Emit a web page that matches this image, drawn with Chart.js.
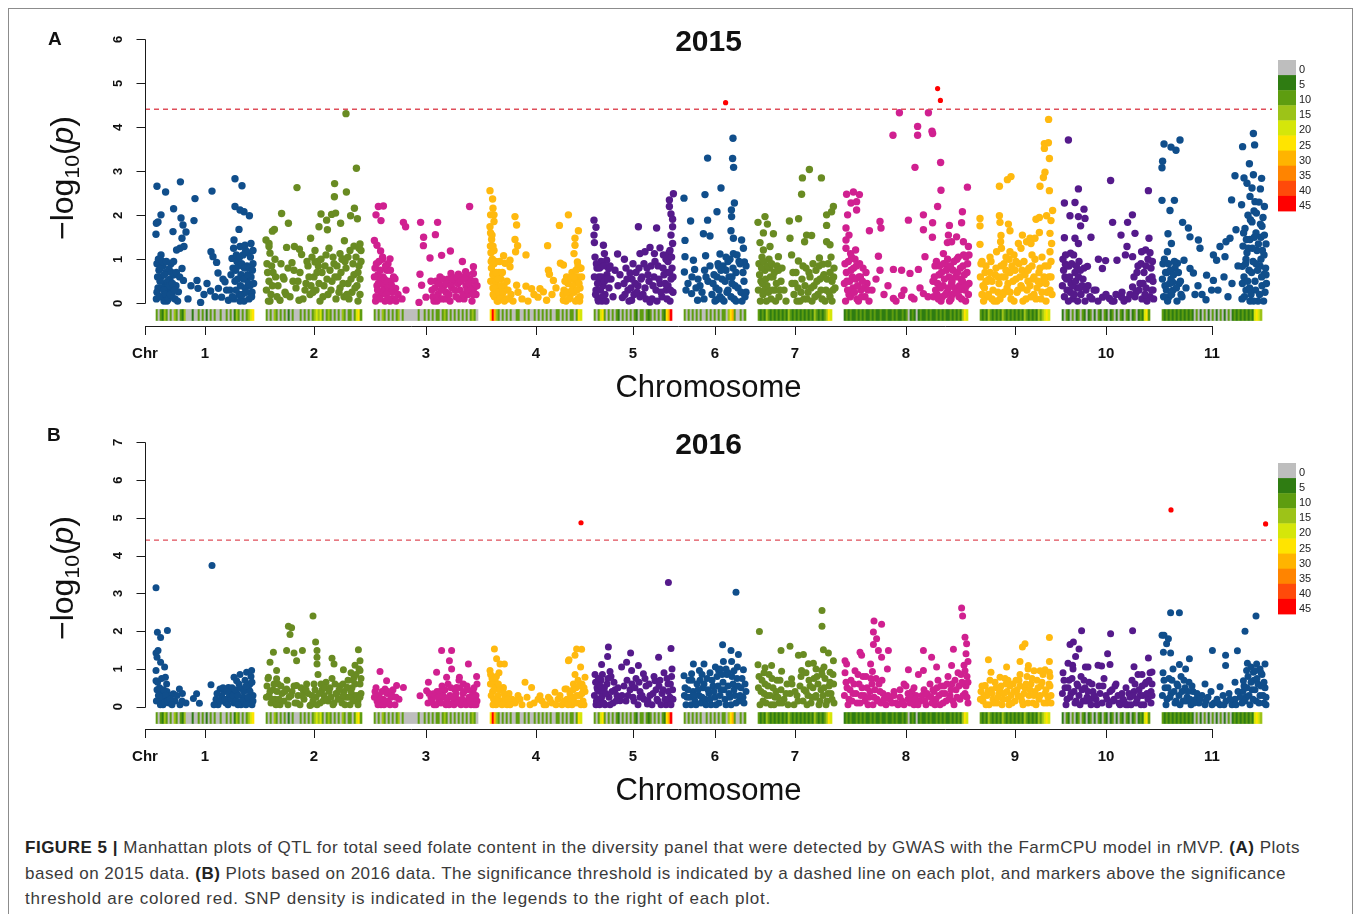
<!DOCTYPE html>
<html>
<head>
<meta charset="utf-8">
<title>Manhattan plots of seed folate QTL</title>
<script src="https://cdn.jsdelivr.net/npm/chart.js@4.4.1/dist/chart.umd.min.js"></script>
<style>
  html, body { margin: 0; padding: 0; background: #fff; }
  #page { position: relative; width: 1358px; height: 914px; overflow: hidden;
          font-family: "Liberation Sans", Arial, Helvetica, sans-serif; color: #111; }
  #frame { position: absolute; left: 8px; top: 8px; width: 1345px; height: 1000px;
           border: 1px solid #8c8c8c; box-sizing: border-box; }
  .panel { position: absolute; left: 0; width: 1358px; height: 403px; }
  .panel canvas { position: absolute; left: 0; top: 0; }
  .tag { position: absolute; font-weight: bold; font-size: 19px; line-height: 19px; color: #111; }
  .ytitle { position: absolute; font-size: 32px; line-height: 36px; color: #111; white-space: nowrap;
            transform: translate(-50%, -50%) rotate(-90deg); }
  .ytitle sub { font-size: 0.66em; vertical-align: -0.28em; }
  .cap { position: absolute; left: 25px; font-size: 17px; line-height: 20px; color: #3a3a3a; white-space: nowrap; }
  .cap b { color: #222; }
</style>
</head>
<body>
<div id="page">
  <div id="frame"></div>

  <div class="panel" id="panelA" style="top:0px">
    <canvas id="chartA" width="1358" height="403"></canvas>
    <div class="tag" style="left:48px; top:29px;">A</div>
    <div class="ytitle" style="left:67px; top:178px;">&minus;log<sub>10</sub>(<i>p</i>)</div>
  </div>

  <div class="panel" id="panelB" style="top:403px">
    <canvas id="chartB" width="1358" height="403"></canvas>
    <div class="tag" style="left:47px; top:22px;">B</div>
    <div class="ytitle" style="left:67px; top:175px;">&minus;log<sub>10</sub>(<i>p</i>)</div>
  </div>

  <div class="cap" data-w="1275" style="top:838px"><b>FIGURE 5 |</b> Manhattan plots of QTL for total seed folate content in the diversity panel that were detected by GWAS with the FarmCPU model in rMVP. <b>(A)</b> Plots</div>
  <div class="cap" data-w="1261" style="top:864px">based on 2015 data. <b>(B)</b> Plots based on 2016 data. The significance threshold is indicated by a dashed line on each plot, and markers above the significance</div>
  <div class="cap" data-w="746" style="top:889px">threshold are colored red. SNP density is indicated in the legends to the right of each plot.</div>
</div>

<script>
// ---- genome layout ----
const chromNames  = ['1','2','3','4','5','6','7','8','9','10','11'];
const chromLength = [49, 48, 52, 46, 39, 31, 37, 62, 35, 44, 50];   // Mb-like units
const chromGap    = 6;
const chromColors = ['#104E8B', '#698B22', '#D02090', '#FFB90F', '#551A8B'];
const threshold   = 4.41;

// ---- SNP density key (SNPs per window) ----
const densityBreaks = [0, 5, 10, 15, 20, 25, 30, 35, 40, 45];
const densityColors = ['#BEBEBE', '#2F7C12', '#5E9D10', '#9DC318', '#D5E60A',
                       '#FFE400', '#FFB400', '#FF8400', '#FF4A0A', '#FF0000'];
// one digit per 1-unit window = index into densityBreaks
const snpDensity = [
  '202132020320213' + '00010020' + '2010202' + '00200' + '2020132020' + '2345',
  '2020320202' + '0102000' + '2020202' + '3434' + '20232020203202' + '202' + '452',
  '202032020202302' + '0000000' + '2002020202' + '2023202020' + '2020202320',
  '5963' + '2020202002' + '2002020020' + '2020202002' + '2020202202' + '54',
  '2024' + '5202020210' + '2020202102' + '2021202020' + '21569',
  '2020202020' + '0202020202' + '2035620' + '0202',
  '2121321212' + '1212132121' + '2121212132' + '1212354',
  '1212112121' + '2112121121' + '1211212112' + '1201210121' + '1212112121' + '2112121213' + '54',
  '2121321212' + '1321212121' + '2132121213' + '23454',
  '1021020120' + '2101201021' + '0210120102' + '1021012012' + '1452',
  '2121212121' + '2121210201' + '0201020102' + '0102012121' + '212121' + '4543'
];

// ---- 2015: [position within chromosome, -log10(p)] ----
const chr1_2015 = [[0.5,2.66],[4.8,2.53],[12.2,2.76],[19.5,2.38],[28,2.55],[39.5,2.83],[43,2.67],[8.8,2.15],[2.5,2.01],[0.2,1.82],[1,1.85],[0,1.57],[12.5,1.94],[13.5,1.78],[15,1.62],[8.5,1.63],[19,1.88],[13,1.48],[39.5,2.2],[42,2.12],[44,2.08],[46.7,1.99],[41.5,1.68],[39,1.44],[42,1.29],[44.5,1.32],[47.5,1.36],[10.3,1.21],[12,1.25],[14,1.29],[2.5,1.1],[27.5,1.17],[28.5,1.06],[30.3,0.93],[38,1.02],[13,0.79],[20.5,0.52],[21,0.34],[22.3,0.02],[27.3,0.28],[31,0.69],[34.5,0.49],[31.2,0.34],[35.3,0.3],[32.8,0.14],[36.2,0.07],[13.7,0.52],[11.2,0.26],
  [0.5,0.9],[1.5,0.75],[2.5,0.6],[3.5,0.85],[4.5,0.45],[5,0.7],[6,0.3],[7,0.55],[8,0.2],[9,0.65],[10,0.4],[1,0.35],[3,0.15],[5.5,0.05],[2,0.5],[0.5,0.25],[7.5,0.9],[4,0.05],[9.5,0.1],[6.5,0.78],
  [38.5,0.8],[39.5,0.5],[40.5,0.95],[41.5,0.2],[42.5,0.65],[43.5,1.1],[44.5,0.35],[45.5,0.85],[46.5,0.1],[47.5,0.6],[48.5,0.9],[48,0.25],[46,1.15],[44,0.05],[40,0.3],[42,0.05],[45,0.55],[47,0.4],[48.5,1.2],[39,0.1],
  [0.2,0.1],[0.8,0.6],[1.2,1.0],[1.8,0.15],[2.2,0.8],[2.8,0.35],[3.2,0.95],[3.8,0.3],[4.2,0.65],[4.8,0.2],[5.2,0.95],[5.8,0.5],[6.2,0.1],[6.8,0.4],[7.2,0.2],[7.8,0.7],[8.2,0.45],[8.8,0.95],[9.2,0.3],[10.2,0.7],[10.8,0.05],[11.8,0.6],[16,0.1],[17.5,0.4],[24,0.2],[25.5,0.45],[29.5,0.15],[33.5,0.55],[37,0.3],[37.5,0.65],[38.2,0.15],[38.8,1.25],[39.8,0.75],[40.2,1.1],[40.8,0.55],[41.2,0.85],[41.8,1.05],[42.2,0.4],[42.8,0.9],[43.2,0.2],[43.8,0.55],[44.2,0.8],[44.8,1.2],[45.2,0.25],[45.8,0.65],[46.2,0.45],[46.8,0.8],[47.2,1.05],[47.8,0.15],[48.2,0.75],[48.8,0.45]];
const chr2_2015 = [[40,4.31],[45.2,3.07],[34.3,2.72],[34.2,2.42],[40.2,2.53],[15.5,2.63],[7.8,2.04],[11.2,1.82],[3.2,1.64],[4.2,1.68],[27.5,2.03],[30.3,1.89],[32.8,2.02],[34.8,2.05],[37.3,1.82],[42.3,1.99],[44.2,2.16],[45.7,1.92],[26.5,1.74],[30.7,1.67],[22.3,1.48],[39.2,1.42],[0,1.44],[1.5,1.36],[1.5,1.29],[2,1.14],[10.3,1.27],[14.2,1.29],[16.7,1.23],[17.8,1.11],[13,0.92],[24.5,0.94],[26.2,0.84],[37,1.13],[38.7,1.01],[47,1.35],[47.5,1.2],[7,0.07],[16.5,0.07],
  [0.5,0.9],[1.5,0.5],[2.5,0.2],[3.5,0.7],[4.5,1.0],[2,0.05],[6,0.4],[8.5,0.6],[9.5,0.25],[11,0.8],[12,0.15],[13.5,0.5],[15,0.35],[17,0.7],[18.5,0.1],[20,0.45],[21,0.85],[22,0.2],[23,1.05],[24,0.6],[25,0.3],[26,0.95],[27,0.05],[28,0.7],[29,0.4],[30,1.1],[31,0.2],[32,0.75],[33,0.5],[34,0.9],[35,0.1],[36,0.6],[37,0.35],[38,1.0],[39,0.15],[40,0.8],[41,0.45],[42,1.2],[43,0.25],[44,0.65],[45,1.05],[46,0.05],[47,0.55],[46.5,0.85],[44.5,0.35],[41.5,0.1],
  [0.2,0.3],[0.8,0.7],[1.2,0.05],[2.8,0.85],[3.2,0.4],[4.8,0.6],[5.5,0.15],[7.5,0.9],[9,0.55],[10,0.2],[14,0.75],[16,0.5],[19.5,0.3],[20.5,0.95],[21.5,0.6],[22.5,0.4],[23.5,0.25],[24.5,1.2],[25.5,0.7],[26.5,0.45],[27.5,1.0],[28.5,0.15],[29.5,0.85],[30.5,0.55],[31.5,1.25],[32.5,0.3],[33.5,1.05],[34.5,0.6],[35.5,0.85],[36.5,0.25],[37.5,0.7],[38.5,0.45],[39.5,0.95],[40.5,0.2],[41,1.05],[42.5,0.55],[43.5,0.9],[44,1.3],[45.5,0.4],[46,0.7],[47,0.2],[47.5,0.95],[46.5,1.25]];
const chr3_2015 = [[2.2,2.2],[4.7,2.21],[1,2.01],[3.5,1.88],[14.7,1.84],[15.8,1.74],[23.3,1.84],[31.8,1.84],[24.8,1.5],[30.7,1.56],[24.7,1.31],[47.8,2.2],[0.2,1.43],[1.5,1.32],[3.3,1.19],[4.3,1.05],[8,1.01],[28,1.03],[33.8,1.09],[38.2,1.19],[44.2,0.95],[49.7,0.83],[49.7,0.68],[45.8,0.72],[42.2,0.66],[38.5,0.68],[23,0.66],[23.8,0.41],[10.5,0.56],[10.8,0.34],[22.5,0.02],[26,0.14],
  [0.5,0.8],[1.5,0.4],[2.5,0.95],[3.5,0.2],[4.5,0.6],[5.5,0.05],[6.5,0.75],[7.5,0.3],[8.5,0.5],[9.5,0.1],[1,0.15],[3,0.55],[5,0.35],[7,0.9],[9,0.25],[2,0.65],[6,0.45],[8,0.05],[12,0.2],[14,0.1],[16,0.3],[29,0.3],[30,0.05],[31,0.5],[32,0.2],[33,0.6],[34,0.1],[35,0.4],[36,0.25],[37,0.55],[38,0.05],[39,0.35],[40,0.5],[41,0.15],[42,0.45],[43,0.3],[44,0.6],[45,0.1],[46,0.4],[47,0.2],[48,0.55],[49,0.05],[50,0.35],[51,0.2],[49,0.5],[46.5,0.65],
  [0.2,0.6],[0.8,0.05],[1.2,0.9],[1.8,0.3],[2.2,0.45],[2.8,0.1],[3.2,0.75],[3.8,0.45],[4.2,1.0],[4.8,0.25],[5.2,0.55],[5.8,0.85],[6.2,0.2],[6.8,0.5],[7.2,0.1],[8.2,0.75],[8.8,0.4],[9.8,0.6],[11,0.05],[28.5,0.5],[29.5,0.15],[30.5,0.35],[31.5,0.05],[32.5,0.45],[33.5,0.3],[34.5,0.55],[35.5,0.1],[36.5,0.45],[37.5,0.2],[38.5,0.4],[39.5,0.55],[40.5,0.3],[41.5,0.6],[42.5,0.1],[43.5,0.5],[44.5,0.2],[45.5,0.55],[46.5,0.3],[47.5,0.45],[48.5,0.3],[49.5,0.2],[50.5,0.5],[51.5,0.4]];
const chr4_2015 = [[0,2.56],[1.3,2.37],[1.5,2.16],[2,2.01],[0.3,2.01],[2,1.86],[0,1.74],[12.5,1.97],[13.3,1.78],[12.5,1.45],[13.8,1.31],[6.8,1.08],[10,0.98],[12.8,1.17],[18,1.1],[28.8,1.31],[34.7,1.77],[29.2,0.75],[29.7,0.66],[31.7,0.52],[35.2,0.91],[13.3,0.41],[18,0.39],[20.8,0.33],[25,0.33],[26.7,0.26],[24,0.14],[28.3,0.07],[36.7,0.07],[7.5,0.91],[10,0.83],[39.2,2.01],[44.2,1.65],[42.5,1.48],[42.5,1.32],[42,1.13],[43.7,0.94],[36.7,0.87],[45,0.79],[38.3,0.6],[44.2,0.6],
  [0.3,1.6],[0.8,1.45],[1.5,1.3],[0.5,1.15],[1.2,1.0],[2,0.9],[0.7,0.8],[1.8,0.7],[2.5,0.6],[0.4,0.5],[3,0.45],[1.5,0.35],[3.5,0.25],[2.2,0.15],[4,0.05],[5,0.3],[6,0.15],[4.5,0.7],[5.5,0.55],[7,0.4],[8,0.1],[9,0.3],[10.5,0.2],[11.5,0.05],[14,0.25],[16,0.1],[19,0.05],[22,0.2],[31,0.2],[33,0.35],[37,0.3],[38,0.05],[39,0.45],[40,0.15],[41,0.7],[42,0.25],[43,0.5],[44,0.1],[45,0.35],[45.5,0.8],[44.8,0.05],[41.5,0.4],
  [0.2,1.3],[0.6,0.95],[1,1.55],[1.4,0.65],[1.6,0.2],[2,1.2],[2.4,0.35],[2.8,0.95],[3.2,0.7],[3.6,0.05],[4,0.55],[4.4,0.25],[4.8,0.95],[5.2,0.1],[5.6,0.4],[6.2,0.7],[6.6,0.25],[7.2,0.05],[8.5,0.5],[9.5,0.1],[36.5,0.2],[37.5,0.5],[38.5,0.25],[39.5,0.1],[40.5,0.55],[41,0.3],[42,0.6],[42.8,0.05],[43.5,0.3],[44,0.85],[44.5,0.45],[45,0.15],[45.8,0.6],[43,0.75]];
const chr5_2015 = [[0,1.89],[1,1.73],[0,1.55],[0.2,1.38],[22.2,1.74],[31.3,1.71],[39.7,2.49],[37.7,2.35],[37.7,2.2],[38.5,2.03],[39.3,1.91],[39.3,1.74],[38.5,1.55],[39.3,1.36],[4.7,1.32],[11.8,1.12],[15.2,1.0],[18,0.69],[23,1.13],[25.5,1.17],[28,1.27],[30.2,1.13],[33,1.26],[34.7,1.1],[5.2,1.13],[6.3,0.98],[7.3,0.79],[14.2,0.13],[18.8,0.07],[28,0.03],
  [0.5,1.05],[1.5,0.8],[2.5,0.6],[3.5,0.95],[4.5,0.4],[5.5,0.2],[6.5,0.65],[7.5,0.35],[1,0.3],[2,0.1],[3,0.5],[4,0.05],[8.5,0.55],[9.5,0.15],[10.5,0.75],[12,0.4],[13,0.65],[15,0.45],[16,0.8],[17,0.3],[19,0.55],[20,0.2],[21,0.7],[22,0.4],[23,0.15],[24,0.6],[25.5,0.35],[26.5,0.8],[27.5,0.5],[29,0.1],[30,0.6],[31,0.3],[32,0.85],[33,0.45],[34,0.15],[35,0.65],[36,0.3],[37,0.95],[38,0.05],[38.5,0.55],[39,0.8],[39.5,0.25],[37.5,1.15],[36.5,0.7],
  [0.2,0.6],[0.8,0.2],[1.2,0.9],[1.8,0.45],[2.2,0.05],[2.8,0.8],[3.2,0.3],[3.8,0.6],[4.2,0.15],[4.8,0.85],[5.2,0.5],[6,0.05],[7,0.55],[8,0.85],[15.5,0.2],[16.5,0.55],[17.5,0.05],[18.5,0.35],[19.5,0.9],[20.5,0.45],[21.5,0.25],[22.5,0.8],[23.5,0.55],[24.5,0.2],[25,0.9],[26,0.1],[27,0.65],[28.5,0.85],[29.5,0.4],[30.5,0.95],[31.5,0.05],[32.5,0.55],[33.5,0.25],[34.5,0.8],[35.5,0.45],[36,1.0],[36.5,0.1],[37,0.4],[37.8,0.7],[38.2,0.3],[38.8,1.05],[39.5,0.6],[38,1.2]];
const chr6_2015 = [[24.5,3.75],[11.8,3.3],[24.3,3.29],[24.8,3.09],[18.5,2.62],[0,2.39],[10.5,2.47],[16.5,2.08],[25.2,2.28],[23.7,2.12],[23.8,1.97],[3.3,1.87],[11.8,1.89],[0.5,1.43],[9.7,1.58],[13,1.53],[23.5,1.65],[24.7,1.48],[28.8,1.44],[29.7,1.25],[0.5,1.06],[4.7,0.98],[10.8,1.08],[18,1.12],[24.7,1.13],[30.2,0.94],[0.2,0.71],[5.3,0.77],[10.3,0.75],[17.3,0.84],[3.8,0.22],[6.8,0.07],[16.3,0.08],[30,0.22],
  [12,0.5],[14,0.2],[15,0.65],[16,0.35],[17,0.9],[18,0.15],[19,0.55],[20,0.05],[21,0.75],[22,0.3],[23,1.0],[24,0.45],[25,0.1],[26,0.7],[27,0.35],[28,0.9],[29,0.05],[30,0.5],[31,0.25],[26.5,1.1],[22.5,0.6],[19.5,0.85],[8,0.4],[7,0.55],[2,0.45],[10,0.1],
  [13,0.85],[14.5,0.45],[15.5,0.05],[16.5,0.6],[17.5,0.3],[18.5,0.75],[19,0.1],[20.5,0.5],[21.5,0.25],[22,0.95],[23.5,0.15],[24.5,0.8],[25.5,0.4],[26,0.05],[27.5,0.95],[28.5,0.25],[29.5,0.7],[30.5,0.15],[31,0.85],[24,0.6],[21,1.05],[1,0.3],[4,0.6],[6,0.35],[9,0.25],[11,0.6]];
const chr7_2015 = [[25.7,3.04],[22.2,2.85],[31.7,2.85],[21.8,2.48],[0,1.84],[3.5,1.97],[4.7,1.8],[15.7,1.87],[20.3,1.92],[34.3,2.01],[36.8,2.08],[37.7,2.2],[34.3,1.77],[24.3,1.55],[26.8,1.54],[2.7,1.6],[7.7,1.58],[16,1.48],[23.3,1.4],[1,1.38],[2.7,1.21],[6,1.29],[10.2,1.06],[20.2,0.96],[16.8,1.1],[21,0.05],[34.3,1.4],[36,1.33],[30.7,1.03],[32.3,0.89],
  [0.5,0.9],[1.5,0.5],[2.5,0.2],[3.5,0.75],[4.5,0.4],[5.5,1.0],[6.5,0.1],[7.5,0.6],[8.5,0.3],[9.5,0.85],[10.5,0.15],[11.5,0.5],[13,0.3],[14,0.05],[17,0.45],[18,0.2],[19,0.7],[20,0.35],[22,0.55],[23,0.1],[24,0.8],[25,0.25],[26,0.6],[27,0.05],[28,0.4],[29,0.75],[30,0.2],[31,0.55],[32,0.1],[33,0.65],[34,0.3],[35,0.9],[36,0.15],[37,0.5],[38,0.8],[37.5,0.3],[36.5,1.05],[2,1.05],[6,0.8],
  [0.2,0.3],[0.8,0.65],[1.2,0.05],[1.8,0.8],[2.2,0.45],[2.8,0.95],[3.2,0.3],[3.8,0.55],[4.2,0.05],[4.8,0.85],[5.2,0.25],[6.2,0.6],[6.8,0.9],[7.2,0.3],[8.2,0.7],[8.8,0.05],[9.2,0.45],[10.2,0.75],[11,0.3],[12,0.8],[17.5,0.7],[18.5,0.45],[19.5,0.05],[21.5,0.25],[22.5,0.85],[23.5,0.4],[24.5,0.1],[25.5,0.7],[26.5,0.35],[27.5,0.9],[28.5,0.15],[29.5,0.5],[30.5,0.85],[31.5,0.3],[32.5,0.6],[33.5,0.05],[34.5,0.55],[35.5,0.25],[36,0.7],[37,0.05],[37.8,0.6],[38.5,0.35]];
const chr8_2015 = [[27.7,4.33],[42.2,4.33],[24.5,3.82],[36.8,4.02],[36.8,3.82],[44,3.91],[44.3,3.86],[35.5,3.09],[48.3,3.2],[48.5,2.57],[61.7,2.64],[46.8,2.2],[1.3,2.48],[4.7,2.53],[7.7,2.47],[3.5,2.28],[6.3,2.31],[6.3,2.12],[1.8,2.01],[18,1.86],[18.5,1.71],[12.7,1.65],[32.2,1.89],[39.7,2.01],[44.3,1.83],[39.7,1.67],[44.2,1.5],[52.7,1.77],[59.2,2.08],[58.8,1.83],[52.2,1.55],[51.7,1.38],[1,1.71],[2.5,1.55],[1,1.44],[1,1.25],[3.3,1.13],[5.8,1.21],[17.2,1.07],[18,0.75],[24.7,0.77],[28.8,0.75],[33,0.68],[37.2,0.77],[40.5,1.06],[24.7,0.11],[28.8,0.18],[33.8,0.14],[39.7,0.22],[49.7,1.13],[53.8,1.4],[56.3,1.51],[59.7,1.4],[62.2,1.29],
  [0.5,0.9],[1.5,0.5],[2.5,0.2],[3.5,0.75],[4.5,0.35],[5.5,1.0],[6.5,0.1],[7.5,0.6],[8.5,0.3],[9.5,0.8],[10.5,0.15],[11.5,0.45],[12.5,0.05],[14,0.3],[16,0.55],[20,0.2],[22,0.4],[26,0.05],[30,0.3],[35,0.1],[38,0.35],[42,0.15],[44.5,0.5],[45.5,0.85],[46.5,0.2],[47.5,0.65],[48.5,0.05],[49.5,0.4],[50.5,0.9],[51.5,0.25],[52.5,0.6],[53.5,0.1],[54.5,0.75],[55.5,0.35],[56.5,1.0],[57.5,0.15],[58.5,0.55],[59.5,0.85],[60.5,0.3],[61.5,0.7],[62.5,0.45],[61,1.05],[58,0.3],[54,0.5],
  [0.2,0.45],[0.8,0.05],[1.2,0.7],[1.8,0.3],[2.2,0.95],[2.8,0.5],[3.2,0.15],[3.8,1.05],[4.2,0.6],[4.8,0.8],[5.2,0.25],[5.8,0.55],[6.2,0.85],[6.8,0.4],[7.2,0.05],[7.8,0.9],[8.2,0.6],[8.8,0.15],[9.2,0.5],[10,0.35],[11,0.7],[12,0.3],[44.8,0.15],[45.2,0.6],[45.8,0.3],[46.2,0.95],[46.8,0.45],[47.2,0.1],[47.8,0.85],[48.2,0.35],[48.8,0.7],[49.2,0.15],[49.8,0.9],[50.2,0.55],[50.8,0.2],[51.2,0.75],[51.8,1.0],[52.2,0.35],[52.8,0.05],[53.2,0.85],[53.8,0.45],[54.2,0.2],[55,0.95],[55.8,0.6],[56.2,0.25],[56.8,0.7],[57.2,1.05],[57.8,0.4],[58.2,0.8],[58.8,0.1],[59.2,0.5],[59.8,1.1],[60.2,0.65],[60.8,0.05],[61.2,0.4],[61.8,0.9],[62.2,0.2],[62.5,1.1]];
const chr9_2015 = [[34.3,4.18],[32.2,3.63],[34.2,3.65],[32.2,3.52],[34.7,3.29],[32.5,2.98],[31.7,2.86],[30,2.66],[34.7,2.56],[9.7,2.66],[13.7,2.81],[15.5,2.88],[0,1.93],[0,1.76],[0,1.34],[9.7,1.99],[10,1.84],[14.2,1.8],[15,1.65],[10.5,1.54],[10.3,1.4],[10.7,1.25],[21.2,1.55],[19.2,1.36],[23.3,1.4],[25,1.48],[28,1.91],[29.7,1.95],[36.3,2.11],[35.5,1.88],[33.3,1.99],[29.7,1.61],[27.5,1.48],[25.5,1.36],[35,1.59],[35.8,1.36],[35,1.17],[8.3,1.17],[15,1.17],[20.5,1.25],
  [0.5,0.9],[1.5,0.4],[2.5,0.7],[3.5,0.15],[4.5,0.55],[5.5,0.95],[6.5,0.3],[7.5,0.65],[8.5,0.05],[9.5,0.45],[10.5,0.85],[11.5,0.2],[12.5,0.6],[13.5,0.35],[14.5,1.0],[15.5,0.1],[16.5,0.5],[17.5,0.75],[18.5,0.25],[19.5,0.9],[20.5,0.4],[21.5,0.05],[22.5,0.65],[23.5,0.3],[24.5,0.8],[25.5,0.15],[26.5,0.55],[27.5,1.0],[28.5,0.35],[29.5,0.7],[30.5,0.1],[31.5,0.5],[32.5,0.85],[33.5,0.25],[34.5,0.6],[35.5,0.95],[35,0.3],[33,0.05],[30,0.45],[27,0.2],[24,0.5],[21,0.75],[18,0.55],[15,0.7],[12,0.9],[9,0.25],[6,0.1],[3,0.5],[1,0.2],
  [0.2,0.6],[1,0.95],[1.8,0.05],[2.2,0.35],[3,0.85],[3.8,0.5],[4.2,0.2],[5,0.7],[6,0.5],[7,0.05],[8,0.8],[9,0.6],[10,0.1],[11,0.6],[12,0.25],[13,0.75],[14,0.45],[15,0.25],[16,0.85],[17,0.05],[18,0.95],[19,0.3],[20,0.6],[21,0.35],[22,0.95],[23,0.1],[24,0.75],[25,0.4],[26,0.85],[27,0.6],[28,0.1],[29,0.5],[30,0.8],[31,0.25],[32,0.6],[33,0.45],[34,0.85],[35.5,0.6],[36,0.2],[13,1.05],[17,1.1],[26,1.1],[31,1.05],[5,1.05]];
const chr10_2015 = [[3.2,3.71],[24.3,2.79],[43.2,2.56],[8.2,2.6],[1.2,2.28],[6.5,2.29],[4,1.99],[8.2,1.97],[11,2.14],[11.5,1.93],[9.3,1.76],[1.2,1.49],[6.5,1.48],[8.2,1.36],[14.5,1.5],[25.3,1.84],[32.8,1.84],[35.2,2.01],[29.5,1.55],[36.5,1.59],[43.5,1.48],[41.8,1.21],[39.8,1.17],[18.2,1.0],[20.2,0.79],[21.8,0.97],[27.5,0.98],[32.5,1.29],[31.7,1.1],[35.3,1.06],[12.7,0.84],[1.7,0.89],[4.3,1.14],[20.3,0.14],[23.7,0.11],[29.8,0.14],[35.3,0.37],
  [0.5,1.0],[1.5,0.6],[2.5,0.3],[3.5,0.85],[4.5,0.45],[5.5,0.1],[6.5,0.7],[7.5,0.35],[8.5,0.95],[9.5,0.2],[10.5,0.55],[11.5,0.05],[13,0.4],[14,0.15],[16,0.3],[18,0.05],[25,0.05],[27,0.2],[33,0.1],[36,0.6],[37,0.25],[38,0.85],[39,0.45],[40,0.1],[41,0.7],[42,0.35],[43,1.0],[44,0.15],[45,0.6],[45.5,0.3],[44.5,0.8],[42.5,0.05],
  [0.2,0.4],[0.8,0.75],[1.2,0.15],[1.8,1.1],[2.2,0.55],[2.8,0.85],[3.2,0.05],[3.8,0.6],[4.2,0.25],[4.8,0.9],[5.2,0.4],[5.8,1.1],[6.2,0.2],[6.8,0.5],[7.2,0.85],[7.8,0.05],[8.2,0.6],[8.8,0.35],[9.2,0.75],[10,0.4],[11,0.8],[12,0.3],[15,0.1],[17,0.3],[22,0.2],[26,0.05],[30,0.25],[31,0.05],[34,0.2],[36.5,0.15],[37.5,0.7],[38.5,0.3],[39.5,0.9],[40.5,0.45],[41.5,0.2],[42,0.85],[43.5,0.55],[44,1.15],[44.8,0.3],[45.2,0.95],[45.8,0.1],[45.5,0.5]];
const chr11_2015 = [[1,3.62],[4.5,3.55],[7,3.48],[9,3.71],[0.3,3.23],[0,3.08],[45.7,3.86],[40.3,3.56],[46.3,3.6],[43.7,3.17],[36.5,2.9],[41,2.85],[45.7,2.92],[49.8,2.84],[42.5,2.73],[45,2.62],[49.2,2.6],[34.8,2.35],[39.8,2.24],[44,2.43],[46.5,2.31],[51.2,2.2],[0,2.34],[6.2,2.34],[4,2.11],[10.3,1.84],[13.2,1.71],[14,1.51],[18.2,1.44],[19,1.25],[3,1.58],[4.7,1.36],[2.7,1.17],[25.7,1.1],[29,1.29],[32,1.4],[34,1.48],[37,1.67],[27.3,0.98],[31.5,1.06],[14,0.79],[15.7,0.69],[22.3,0.64],[25.7,0.52],[24.8,0.3],[22,0.08],[16.5,0.2],[5.3,0.48],[7.7,0.91],[11,0.98],[40.2,0.84],[42,1.0],[49.5,1.0],[51,0.66],
  [0.5,0.9],[1.5,0.4],[2.5,0.7],[3.5,0.15],[4.5,0.55],[5.5,0.3],[6.5,0.8],[7.5,0.05],[8.5,0.45],[9.5,0.2],[12,0.35],[18,0.4],[20,0.2],[28,0.3],[31,0.6],[33,0.15],[35,0.45],[38,0.85],[40,0.1],[40.5,1.3],[41,0.6],[41.5,1.7],[42,0.3],[42.5,1.15],[43,2.0],[43.5,0.75],[44,1.45],[44.5,0.2],[45,1.85],[45.5,0.95],[46,2.1],[46.5,0.5],[47,1.6],[47.5,1.2],[48,0.05],[48.5,2.3],[49,0.85],[49.5,1.5],[50,0.4],[50.5,1.95],[51,1.1],[51.5,0.25],[52,0.65],[50,1.75],[47,0.9],[44,0.05],
  [0.2,0.55],[0.8,0.15],[1.2,1.0],[1.8,0.7],[2.2,0.3],[2.8,0.05],[3.2,0.9],[3.8,0.45],[4.2,0.75],[4.8,0.2],[5.8,0.65],[6.2,0.95],[7.2,0.35],[8.2,0.7],[9.2,0.5],[10,0.15],[40.2,0.45],[40.8,1.6],[41.2,0.15],[41.8,0.9],[42.2,1.45],[42.8,0.5],[43.2,1.25],[43.8,0.35],[44.2,1.9],[44.8,0.7],[45.2,1.25],[45.8,0.05],[46.2,1.5],[46.8,0.3],[47.2,2.05],[47.8,0.75],[48.2,1.35],[48.8,0.2],[49.2,1.8],[49.8,0.6],[50.2,1.2],[50.8,0.05],[51.2,1.55],[51.8,0.8],[52.2,0.45],[52,1.35]];

// ---- 2016 ----
const chr1_2016 = [[0,3.15],[28,3.74],[0.7,1.97],[5.7,2.02],[2.3,1.83],[0,1.42],[1,1.49],[0.5,1.31],[2.3,1.18],[4.3,1.05],[0,0.96],[0,0.69],[4.7,0.78],[5.3,0.6],[11.7,0.47],[13.2,0.35],[8.7,0.34],[20.3,0.34],[18.7,0.22],[21.7,0.09],[27.5,0.58],[32,0.47],[36.2,0.51],[39,0.78],[40.3,0.69],[42,0.85],[45.3,0.91],[47.8,0.96],[32.8,0.29],[37,0.34],[43.7,0.43],[47,0.6],
  [0.5,0.45],[1.5,0.2],[2.5,0.35],[3.5,0.05],[4.5,0.25],[5.5,0.4],[6.5,0.1],[7.5,0.3],[9.5,0.15],[12,0.05],[15,0.1],[30,0.2],[31,0.05],[33,0.15],[34,0.4],[35,0.1],[36.5,0.25],[38,0.5],[39,0.1],[40.5,0.35],[41.5,0.6],[42.5,0.05],[43.5,0.25],[44.5,0.7],[45.5,0.15],[46.5,0.45],[47.5,0.8],[48.5,0.3],[48,0.05],[46,0.6],
  [0.2,0.15],[0.8,0.65],[1.2,0.3],[1.8,0.5],[2.2,0.05],[2.8,0.75],[3.2,0.25],[3.8,0.45],[4.2,0.1],[4.8,0.3],[5.8,0.15],[7,0.2],[8,0.05],[10.5,0.3],[13,0.15],[29,0.05],[30.5,0.35],[32,0.15],[33.5,0.5],[34.5,0.2],[35.5,0.4],[36,0.05],[37.5,0.2],[38.5,0.3],[39.5,0.45],[40,0.15],[41,0.3],[42,0.5],[43,0.15],[44,0.4],[45,0.55],[46,0.25],[47,0.4],[48,0.65],[48.5,0.15],[45,0.05],[41,0.05]];
const chr2_2016 = [[23.5,2.4],[12.8,2.09],[12,1.91],[11.2,2.13],[24.8,1.71],[3.7,1.44],[10.3,1.49],[14,1.42],[18.2,1.49],[15.3,1.22],[25.5,1.49],[25.5,1.31],[25.5,1.13],[33,1.28],[34,1.13],[46.2,1.51],[47,1.22],[38.7,0.98],[2,1.18],[5.3,0.96],[1.2,0.78],[5.3,0.74],[15.3,0.56],[20.3,0.6],[18.7,0.43],[10.3,0.47],[22,0.03],[35.3,0.34],[38.5,0.6],[40.7,0.51],[44,0.78],[47,0.96],
  [0.5,0.55],[1.5,0.3],[2.5,0.1],[3.5,0.45],[4.5,0.2],[6,0.6],[7,0.05],[8,0.35],[9,0.15],[10.5,0.7],[11.5,0.25],[13,0.4],[14.5,0.1],[16,0.3],[17.5,0.5],[19,0.2],[21,0.35],[22.5,0.05],[24,0.6],[25,0.25],[26,0.85],[27,0.1],[28,0.45],[29,0.3],[30,0.65],[31,0.15],[32,0.5],[33.5,0.05],[35,0.35],[36,0.2],[37,0.55],[38,0.1],[39,0.4],[40,0.25],[41,0.7],[42,0.05],[43,0.5],[44,0.3],[45,0.85],[46,0.15],[47,0.6],[47.5,0.35],[46.5,1.0],[44.5,1.1],[42.5,0.9],
  [0.2,0.25],[1,0.75],[2,0.4],[3,0.2],[4,0.6],[5,0.05],[5.5,0.4],[6.5,0.2],[7.5,0.55],[9.5,0.4],[11,0.05],[12.5,0.3],[14,0.55],[15.5,0.1],[17,0.05],[18,0.3],[20,0.45],[23,0.3],[23.5,0.15],[24.5,0.45],[25.5,0.05],[26.5,0.35],[27.5,0.6],[28.5,0.15],[29.5,0.5],[30.5,0.2],[31.5,0.4],[32.5,0.25],[33,0.75],[34,0.1],[34.5,0.6],[36.5,0.45],[37.5,0.2],[38.5,0.3],[39.5,0.05],[40.5,0.5],[41.5,0.25],[42.5,0.4],[43.5,0.15],[44.5,0.6],[45.5,0.3],[46,0.05],[47,0.25],[47.5,0.75],[43.5,0.7]];
const chr3_2016 = [[3,0.93],[6.3,0.69],[11.3,0.56],[14.7,0.51],[5.5,0.47],[33.8,1.49],[38.8,1.49],[37.7,1.22],[38.8,1.0],[36.3,0.78],[42.7,0.78],[44.7,0.6],[47.2,1.13],[51.3,0.8],[31.3,0.91],[27.2,0.65],[29.7,0.34],[41.3,0.51],[23,0.29],[26.3,0.42],
  [0.5,0.4],[1.5,0.15],[2.5,0.3],[3.5,0.05],[4.5,0.2],[6.5,0.35],[7.5,0.1],[8.5,0.25],[9.5,0.45],[10.5,0.05],[12.5,0.2],[27,0.1],[28.5,0.25],[30,0.05],[31.5,0.4],[32.5,0.15],[34,0.55],[35,0.25],[36,0.05],[37,0.6],[38,0.3],[39.5,0.1],[40.5,0.45],[41.5,0.2],[42.5,0.7],[43.5,0.05],[44.5,0.35],[45.5,0.15],[46.5,0.55],[47.5,0.25],[48.5,0.05],[49.5,0.4],[50.5,0.2],[51.5,0.6],[51,0.05],
  [0.2,0.25],[1,0.5],[2,0.05],[3,0.2],[4,0.4],[5,0.05],[6,0.15],[7,0.4],[8,0.05],[9,0.3],[11,0.25],[27.5,0.35],[29,0.15],[30.5,0.3],[31,0.05],[32,0.25],[33,0.4],[33.5,0.1],[34.5,0.3],[35.5,0.45],[36.5,0.15],[37.5,0.05],[38.5,0.5],[39,0.25],[40,0.05],[41,0.35],[42,0.1],[43,0.5],[44,0.2],[45,0.4],[46,0.05],[47,0.45],[48,0.15],[49,0.3],[50,0.5],[51,0.3],[51.5,0.15],[50,0.05]];
const chr4_2016 = [[2.2,1.53],[3.3,1.27],[5,1.13],[7.2,1.13],[0,0.96],[1.7,0.78],[3.3,0.6],[6.7,0.51],[17.5,0.65],[20.8,0.51],[25,0.29],[29.2,0.25],[32.5,0.38],[37.5,0.47],[39.2,1.22],[42.5,1.36],[43.3,1.53],[39.5,1.24],[45.8,1.52],[45.3,1.05],[42.5,0.85],[47.5,0.78],[41.7,0.6],[38.3,0.47],[46.7,0.43],
  [0.3,0.85],[0.8,0.6],[1.3,0.4],[1.8,0.2],[2.5,0.7],[3,0.05],[3.5,0.5],[4,0.3],[4.5,0.9],[5.5,0.15],[6.5,0.45],[7.5,0.25],[8.5,0.05],[9.5,0.35],[11,0.2],[12.5,0.1],[14,0.3],[16,0.05],[18.5,0.25],[22,0.1],[24,0.2],[27,0.05],[31,0.1],[34,0.2],[36,0.05],[38.5,0.2],[40,0.35],[41,0.05],[42,0.25],[43,0.5],[44,0.1],[45,0.3],[46,0.6],[46.5,0.15],[47.5,0.4],[47,0.05],
  [0.2,0.6],[0.6,0.3],[1,0.75],[1.5,0.05],[2,0.45],[2.5,0.2],[3.2,0.8],[3.8,0.15],[4.2,0.6],[5,0.45],[6,0.05],[7,0.35],[8,0.15],[9,0.2],[10,0.05],[13,0.15],[15,0.2],[20,0.05],[26,0.15],[28,0.05],[30,0.2],[33,0.05],[35,0.3],[37,0.15],[39,0.05],[40.5,0.2],[41.5,0.45],[42.5,0.1],[43.5,0.3],[44.5,0.55],[45.5,0.05],[46,0.35],[47,0.5],[44,0.7]];
const chr5_2016 = [[37.2,3.29],[38.5,1.54],[7.2,1.58],[6.8,1.33],[3.8,1.12],[18.3,1.42],[32.3,1.31],[8,0.93],[13.8,1.05],[16.3,1.18],[18.8,0.96],[22.2,1.09],[24.7,0.87],[30.5,0.69],[13,0.16],[23,0.25],[26.7,0.07],
  [0.5,0.85],[1.5,0.5],[2.5,0.2],[3.5,0.7],[4.5,0.35],[5.5,0.05],[6.5,0.6],[7.5,0.25],[8.5,0.8],[9.5,0.1],[10.5,0.45],[11.5,0.3],[1,0.05],[3,0.4],[15,0.55],[17,0.3],[19,0.6],[20,0.15],[21,0.75],[23,0.4],[25,0.2],[26,0.55],[28,0.3],[29,0.05],[31,0.45],[32,0.15],[33,0.7],[34,0.35],[35,0.9],[36,0.05],[37,0.6],[38,0.25],[38.8,0.8],[39.3,0.45],[39,1.0],[37.5,0.15],
  [0.2,0.3],[0.8,0.65],[1.2,0.15],[1.8,0.45],[2.2,0.75],[2.8,0.05],[3.2,0.55],[3.8,0.25],[4.2,0.85],[4.8,0.1],[5.2,0.5],[6,0.35],[7,0.75],[8,0.05],[9,0.4],[10,0.65],[11,0.15],[12,0.5],[14,0.3],[16,0.15],[16.5,0.7],[18,0.45],[19.5,0.25],[20.5,0.5],[22,0.05],[22.5,0.65],[24,0.3],[25.5,0.75],[27,0.15],[27.5,0.6],[29.5,0.35],[30,0.8],[31.5,0.2],[32.5,0.55],[33.5,0.05],[34.5,0.45],[35.5,0.2],[36.5,0.75],[37.2,0.4],[38.2,0.6],[38.5,0.05],[39.5,0.2]];
const chr6_2016 = [[26,3.03],[19.3,1.64],[23.5,1.49],[27.2,1.38],[23.8,1.2],[19.7,1.2],[4.7,1.13],[10,1.13],[15.7,1.05],[17.3,0.96],[26.7,1.05],[29.7,0.98],[0,0.82],[3.8,0.87],[7.7,0.96],
  [0.5,0.5],[1.5,0.25],[2.5,0.7],[3.5,0.05],[4.5,0.4],[5.5,0.15],[6.5,0.6],[7.5,0.3],[8.5,0.1],[9.5,0.5],[10.5,0.2],[11.5,0.75],[12.5,0.35],[13.5,0.05],[14.5,0.55],[15.5,0.25],[16.5,0.8],[17.5,0.1],[18.5,0.45],[19.5,0.65],[20.5,0.2],[21.5,0.85],[22.5,0.35],[23.5,0.05],[24.5,0.6],[25.5,0.3],[26.5,0.75],[27.5,0.15],[28.5,0.5],[29.5,0.25],[30.5,0.6],[25,0.95],[22,0.9],
  [0.2,0.3],[1,0.05],[2,0.45],[3,0.25],[4,0.7],[5,0.3],[6,0.05],[7,0.45],[8,0.7],[9,0.25],[10,0.6],[11,0.05],[12,0.45],[13,0.2],[14,0.7],[15,0.4],[16,0.05],[17,0.55],[18,0.3],[19,0.85],[20,0.45],[21,0.05],[22,0.55],[23,0.25],[24,0.8],[25,0.45],[26,0.1],[27,0.55],[28,0.3],[29,0.75],[30,0.1],[31,0.4],[21,1.0],[18,1.0],[9,0.85],[13,0.9]];
const chr7_2016 = [[32,2.55],[32,2.13],[0.7,1.99],[11.5,1.49],[16,1.6],[20.2,1.36],[22.7,1.38],[32.7,1.51],[35.2,1.42],[37.7,1.22],[0,1.11],[3.5,1.03],[6.8,1.09],[11.8,0.94],[16.8,0.74],[21.8,0.96],[25.2,1.14],[27.7,1.15],[31.8,0.96],[36,0.91],
  [0.5,0.8],[1.5,0.4],[2.5,0.15],[3.5,0.6],[4.5,0.3],[5.5,0.85],[6.5,0.05],[7.5,0.5],[8.5,0.25],[9.5,0.7],[10.5,0.1],[11.5,0.45],[13,0.2],[14.5,0.6],[16,0.35],[18,0.05],[19.5,0.3],[21,0.55],[22.5,0.15],[24,0.4],[25.5,0.7],[26.5,0.1],[27.5,0.5],[28.5,0.25],[29.5,0.8],[30.5,0.05],[31.5,0.45],[32.5,0.3],[33.5,0.75],[34.5,0.15],[35.5,0.55],[36.5,0.35],[37.5,0.85],[38,0.1],[33,1.05],[29,1.0],
  [0.2,0.5],[1,0.05],[2,0.7],[3,0.35],[4,0.1],[5,0.55],[6,0.3],[7,0.75],[8,0.05],[9,0.4],[10,0.25],[11,0.7],[12,0.1],[14,0.35],[15,0.05],[17,0.6],[18.5,0.4],[20,0.15],[21.5,0.8],[23,0.45],[24.5,0.05],[25,0.3],[26,0.55],[27,0.25],[28,0.75],[29,0.3],[30,0.6],[31,0.15],[32,0.85],[33,0.5],[34,0.05],[35,0.35],[36,0.65],[37,0.2],[37.8,0.6],[3,0.9],[24,0.9]];
const chr8_2016 = [[58.8,2.61],[59.3,2.4],[15,2.27],[18.8,2.18],[14.7,1.98],[16.3,1.8],[14.7,1.65],[17.2,1.49],[22.2,1.49],[18.8,1.31],[8,1.44],[8.8,1.36],[0.5,1.22],[1.3,1.13],[13.3,1.13],[21.7,1.0],[14.2,0.93],[32.2,0.98],[39.7,1.49],[43.8,1.31],[39.7,0.96],[37.2,0.85],[46.3,1.05],[54.7,1.52],[53.8,1.09],[60.5,1.84],[61.3,1.67],[30,0.6],[25,0.3],[35,0.5],[28,0.45],
  [0.5,0.9],[1.5,0.5],[2.5,0.2],[3.5,0.7],[4.5,0.35],[5.5,0.95],[6.5,0.1],[7.5,0.6],[8.5,0.3],[9.5,0.8],[10.5,0.15],[11.5,0.5],[12.5,0.25],[13.5,0.75],[14.5,0.05],[15.5,0.45],[16.5,0.2],[17.5,0.6],[18.5,0.1],[19.5,0.35],[21,0.05],[23,0.2],[25,0.4],[26,0.1],[28,0.25],[30,0.05],[31,0.55],[32,0.2],[33,0.1],[34,0.4],[35,0.05],[36,0.3],[38,0.15],[40,0.45],[41,0.05],[42,0.3],[43,0.6],[44,0.1],[45,0.4],[46,0.2],[47,0.7],[48,0.05],[49,0.35],[50,0.55],[51,0.15],[52,0.8],[53,0.3],[54,0.6],[55,0.05],[56,0.45],[57,0.9],[58,0.2],[59,0.65],[60,1.1],[60.5,0.35],[61,1.4],[61.5,0.8],[62,0.1],[62,1.2],[61,0.55],
  [0.2,0.3],[1,0.65],[2,0.05],[3,0.45],[4,0.15],[5,0.6],[6,0.35],[7,0.85],[8,0.1],[9,0.5],[10,0.3],[11,0.8],[12,0.05],[13,0.4],[14,0.6],[15,0.25],[16,0.75],[17,0.15],[18,0.4],[19,0.7],[20,0.2],[22,0.3],[24,0.1],[27,0.05],[29,0.15],[32,0.35],[33.5,0.25],[35.5,0.2],[37,0.05],[39,0.3],[40.5,0.15],[41.5,0.35],[43.5,0.25],[44.5,0.45],[45.5,0.05],[46.5,0.5],[47.5,0.3],[48.5,0.55],[49.5,0.1],[50.5,0.35],[51.5,0.6],[52.5,0.2],[53.5,0.45],[54.5,0.15],[55.5,0.7],[56.5,0.25],[57.5,0.55],[58.5,0.85],[59.5,0.3],[60,0.6],[60.5,0.95],[61.5,0.25],[62,0.65]];
const chr9_2016 = [[34.7,1.83],[21.2,1.58],[22.5,1.67],[4.2,1.24],[5.5,0.91],[13.3,1.05],[20,1.2],[24.2,1.09],[34.7,1.2],[32.5,0.98],[34.7,0.91],[2.5,0.56],[10,0.78],[14,0.7],[20,0.85],
  [0.5,0.4],[1.5,0.15],[2.5,0.55],[3.5,0.3],[4.5,0.05],[5.5,0.45],[6.5,0.2],[7.5,0.65],[8.5,0.1],[9.5,0.35],[10.5,0.55],[11.5,0.2],[12.5,0.75],[13.5,0.4],[14.5,0.05],[15.5,0.3],[16.5,0.6],[17.5,0.15],[18.5,0.45],[19.5,0.7],[20.5,0.25],[21.5,0.05],[22.5,0.5],[23.5,0.8],[24.5,0.3],[25.5,0.6],[26.5,0.1],[27.5,0.4],[28.5,0.7],[29.5,0.2],[30.5,0.55],[31.5,0.85],[32.5,0.35],[33.5,0.1],[34.5,0.6],[35.5,0.3],[35,0.8],[30,0.95],[27,0.95],[24,1.0],
  [0.2,0.2],[1,0.55],[2,0.3],[3,0.05],[4,0.4],[5,0.7],[6,0.35],[7,0.1],[8,0.5],[9,0.25],[10,0.45],[11,0.05],[12,0.35],[13,0.6],[14,0.2],[15,0.55],[16,0.1],[17,0.4],[18,0.7],[19,0.3],[20,0.55],[21,0.15],[22,0.35],[23,0.6],[24,0.1],[25,0.45],[26,0.75],[27,0.3],[28,0.05],[29,0.5],[30,0.3],[31,0.65],[32,0.1],[33,0.45],[34,0.25],[35,0.55],[35.5,0.1]];
const chr10_2016 = [[9.8,2.01],[24.3,1.93],[35.3,2.01],[5.7,1.71],[4,1.65],[8.5,1.53],[22.8,1.4],[43.2,1.29],[6.8,1.33],[5.3,1.1],[11.7,1.05],[19.8,1.08],[24,1.12],[36,1.06],[40,0.85],[45,0.92],
  [0.5,0.9],[1.5,0.5],[2.5,0.2],[3.5,0.7],[4.5,0.35],[5.5,1.0],[6.5,0.1],[7.5,0.6],[8.5,0.3],[9.5,0.8],[10.5,0.15],[11.5,0.5],[12.5,0.25],[13.5,0.65],[14.5,0.05],[15.5,0.4],[17,0.2],[18.5,0.55],[20,0.1],[21,0.75],[22,0.3],[23.5,0.05],[25,0.45],[26,0.2],[27,0.6],[28.5,0.1],[30,0.35],[31,0.15],[32,0.5],[33,0.05],[34,0.25],[35,0.7],[36,0.4],[37,0.1],[38,0.85],[39,0.3],[40,0.55],[41,0.05],[42,0.65],[43,0.2],[44,0.9],[44.5,0.4],[45,0.6],[18,1.1],[13,1.05],[3,1.15],
  [0.2,0.35],[1,0.7],[2,0.05],[3,0.5],[4,0.25],[5,0.75],[6,0.4],[7,0.15],[8,0.55],[9,0.05],[10,0.45],[11,0.7],[12,0.15],[13,0.4],[14,0.2],[15,0.6],[16,0.3],[17.5,0.05],[19,0.35],[20.5,0.55],[22.5,0.2],[24,0.4],[25.5,0.15],[26.5,0.55],[28,0.3],[29,0.05],[30.5,0.2],[32,0.05],[33.5,0.35],[34.5,0.05],[35.5,0.3],[36.5,0.6],[37.5,0.2],[38.5,0.45],[39.5,0.05],[40.5,0.3],[41.5,0.6],[42.5,0.35],[43.5,0.7],[44.5,0.1],[45,0.3]];
const chr11_2016 = [[4.3,2.49],[8.7,2.49],[47,2.4],[41.5,2.0],[0,1.89],[1,1.89],[3.2,1.8],[2.3,1.67],[0.7,1.44],[4.3,1.42],[13.7,1.27],[8.7,1.12],[11.8,1.0],[25.2,1.49],[31.8,1.36],[31.8,1.09],[37.7,1.48],[47.3,1.13],[51.5,1.13],[42.7,1.15],[42.3,0.96],[45.7,0.91],[21.5,0.6],[29,0.53],[36.5,0.65],[40.7,0.69],
  [0.5,0.9],[1.5,0.5],[2.5,0.2],[3.5,0.75],[4.5,0.35],[5.5,1.0],[6.5,0.1],[7.5,0.6],[8.5,0.3],[9.5,0.8],[10.5,0.15],[11.5,0.5],[12.5,0.25],[13.5,0.65],[14.5,0.05],[15.5,0.4],[17,0.2],[18.5,0.1],[20,0.3],[21.5,0.05],[23,0.25],[24.5,0.4],[26,0.1],[27.5,0.2],[29,0.05],[30.5,0.3],[32,0.15],[33.5,0.35],[35,0.05],[36.5,0.2],[38,0.4],[40,0.1],[41,0.55],[42,0.25],[43,0.8],[44,0.05],[45,0.45],[46,0.7],[47,0.15],[48,0.6],[49,0.3],[50,0.85],[51,0.1],[51.5,0.5],[52,0.25],[49,1.0],[44.5,1.05],
  [0.2,0.3],[1,0.7],[2,0.05],[3,0.5],[4,0.25],[5,0.7],[6,0.4],[7,0.15],[8,0.55],[9,0.05],[10,0.4],[11,0.7],[12,0.15],[13,0.4],[14,0.2],[15,0.55],[16,0.1],[17.5,0.35],[19,0.2],[22,0.15],[25,0.05],[28,0.1],[31,0.05],[34,0.2],[37,0.05],[39,0.25],[40.5,0.4],[41.5,0.15],[42.5,0.5],[43.5,0.3],[44.5,0.65],[45.5,0.2],[46.5,0.45],[47.5,0.75],[48.5,0.1],[49.5,0.55],[50.5,0.3],[51,0.65],[52,0.05],[49.5,0.9],[46.5,0.95]];

// markers above the threshold: [chromosome, position, -log10(p)]
const signif2015 = [[6, 20.8, 4.56], [8, 46.8, 4.88], [8, 48.2, 4.61]];
const signif2016 = [[4, 45.5, 4.87], [11, 4.5, 5.21], [11, 51.8, 4.84]];

const scans2015 = [chr1_2015, chr2_2015, chr3_2015, chr4_2015, chr5_2015, chr6_2015, chr7_2015, chr8_2015, chr9_2015, chr10_2015, chr11_2015];
const scans2016 = [chr1_2016, chr2_2016, chr3_2016, chr4_2016, chr5_2016, chr6_2016, chr7_2016, chr8_2016, chr9_2016, chr10_2016, chr11_2016];

// ---- cumulative genome coordinates ----
const chromStart = [];
chromLength.reduce((acc, len, i) => { chromStart[i] = acc; return acc + len + chromGap; }, 0);
const axisStart = -5.5, axisEnd = 558;
const xTickValues = [axisStart].concat(chromLength.map((len, i) => chromStart[i] + len / 2));
const xTickLabels = ['Chr'].concat(chromNames);

const FONT = '"Liberation Sans", Arial, Helvetica, sans-serif';

// axes in base-R style, panel title and SNP density key
const manhattanDecor = {
  id: 'manhattanDecor',
  afterDraw(chart, args, o) {
    const { ctx, chartArea: a, scales: { x, y } } = chart;
    ctx.save();
    ctx.strokeStyle = '#1a1a1a';
    ctx.lineWidth = 1;
    ctx.fillStyle = '#111';

    // y axis
    const ax = Math.round(a.left) + 0.5;
    ctx.beginPath();
    ctx.moveTo(ax, Math.round(y.getPixelForValue(o.yTicks[0])) + 0.5);
    ctx.lineTo(ax, Math.round(y.getPixelForValue(o.yTicks[o.yTicks.length - 1])) + 0.5);
    o.yTicks.forEach(v => {
      const py = Math.round(y.getPixelForValue(v)) + 0.5;
      ctx.moveTo(ax, py);
      ctx.lineTo(ax - 9, py);
    });
    ctx.stroke();
    ctx.font = 'bold 13px ' + FONT;
    ctx.textAlign = 'center';
    ctx.textBaseline = 'middle';
    o.yTicks.forEach(v => {
      ctx.save();
      ctx.translate(ax - 27, y.getPixelForValue(v));
      ctx.rotate(-Math.PI / 2);
      ctx.fillText(String(v), 0, 0);
      ctx.restore();
    });

    // x axis line from the first to the last tick
    const bx = Math.round(a.bottom) + 0.5;
    ctx.beginPath();
    ctx.moveTo(x.getPixelForValue(x.ticks[0].value), bx);
    ctx.lineTo(x.getPixelForValue(x.ticks[x.ticks.length - 1].value), bx);
    ctx.stroke();

    // panel title
    ctx.font = 'bold 30px ' + FONT;
    ctx.fillText(o.title, (a.left + a.right) / 2, o.titleY);

    // SNP density key
    const kx = 1278, kw = 18, ky = 60, kh = 15.1;
    ctx.font = '11px ' + FONT;
    ctx.textAlign = 'left';
    densityBreaks.forEach((b, i) => {
      ctx.fillStyle = densityColors[i];
      ctx.fillRect(kx, ky + i * kh, kw, kh + 0.4);
      ctx.fillStyle = '#222';
      ctx.fillText(String(b), kx + 21, ky + i * kh + kh / 2 + 2.5);
    });
    ctx.restore();
  }
};

function buildChart(canvasId, scans, signif, cfg) {
  const datasets = [];

  // SNP density strip under the scan
  const stripData = [], stripColors = [];
  snpDensity.forEach((codes, k) => {
    for (let i = 0; i < codes.length; i++) {
      stripData.push({ x: chromStart[k] + i + 0.5, y: [cfg.stripTop, cfg.stripBottom] });
      stripColors.push(densityColors[+codes[i]]);
    }
  });
  datasets.push({
    type: 'bar', data: stripData, backgroundColor: stripColors, borderWidth: 0,
    barPercentage: 1, categoryPercentage: 1, grouped: false, order: 30
  });

  // one scatter series per chromosome
  scans.forEach((pts, k) => {
    datasets.push({
      type: 'scatter',
      data: pts.map(([p, v]) => ({ x: chromStart[k] + p, y: v })),
      backgroundColor: chromColors[k % chromColors.length],
      borderWidth: 0, pointRadius: cfg.pointRadius, pointHoverRadius: cfg.pointRadius,
      order: 20 - k
    });
  });

  // significance threshold
  datasets.push({
    type: 'line',
    data: [{ x: axisStart, y: threshold }, { x: axisEnd, y: threshold }],
    borderColor: '#DF4E5A', borderWidth: 1.3, borderDash: [5, 4],
    pointRadius: 0, fill: false, order: 1
  });

  // significant markers
  datasets.push({
    type: 'scatter',
    data: signif.map(([c, p, v]) => ({ x: chromStart[c - 1] + p, y: v })),
    backgroundColor: '#FF0000', borderWidth: 0, pointRadius: 2.6, order: 0
  });

  return new Chart(document.getElementById(canvasId), {
    type: 'scatter',
    data: { datasets },
    options: {
      responsive: false,
      animation: false,
      devicePixelRatio: 1,
      layout: { padding: { left: 145, right: 86, top: 36, bottom: 0 } },
      plugins: {
        legend: { display: false },
        tooltip: { enabled: false },
        manhattanDecor: { title: cfg.title, titleY: 43, yTicks: cfg.yTicks }
      },
      scales: {
        x: {
          type: 'linear', min: axisStart, max: axisEnd, offset: false,
          afterBuildTicks: s => { s.ticks = xTickValues.map(v => ({ value: v })); },
          afterFit: s => { s.height = 77; },
          ticks: {
            autoSkip: false, maxRotation: 0, minRotation: 0, padding: 10,
            color: '#111', font: { family: FONT, size: 15, weight: 'bold' },
            callback: (v, i) => xTickLabels[i]
          },
          grid: { display: true, offset: false, drawOnChartArea: false, drawTicks: true, tickLength: 9,
                  tickColor: '#1a1a1a', tickWidth: 1 },
          border: { display: false },
          title: { display: true, text: 'Chromosome', color: '#111',
                   font: { family: FONT, size: 31, lineHeight: 0.95 }, padding: { top: 0, bottom: 0 } }
        },
        y: { type: 'linear', display: false, min: cfg.yMin, max: cfg.yMax }
      }
    },
    plugins: [manhattanDecor]
  });
}

buildChart('chartA', scans2015, signif2015, {
  title: '2015', yTicks: [0, 1, 2, 3, 4, 5, 6], yMin: -0.516, yMax: 6.075,
  stripTop: -0.141, stripBottom: -0.391, pointRadius: 3.7
});
buildChart('chartB', scans2016, signif2016, {
  title: '2016', yTicks: [0, 1, 2, 3, 4, 5, 6, 7], yMin: -0.590, yMax: 7.087,
  stripTop: -0.154, stripBottom: -0.445, pointRadius: 3.5
});

// stretch each caption line to its column width
document.querySelectorAll('.cap').forEach(el => {
  const target = +el.dataset.w;
  const w = el.getBoundingClientRect().width;
  const n = el.textContent.length;
  el.style.letterSpacing = ((target - w) / n).toFixed(3) + 'px';
});
</script>
</body>
</html>
